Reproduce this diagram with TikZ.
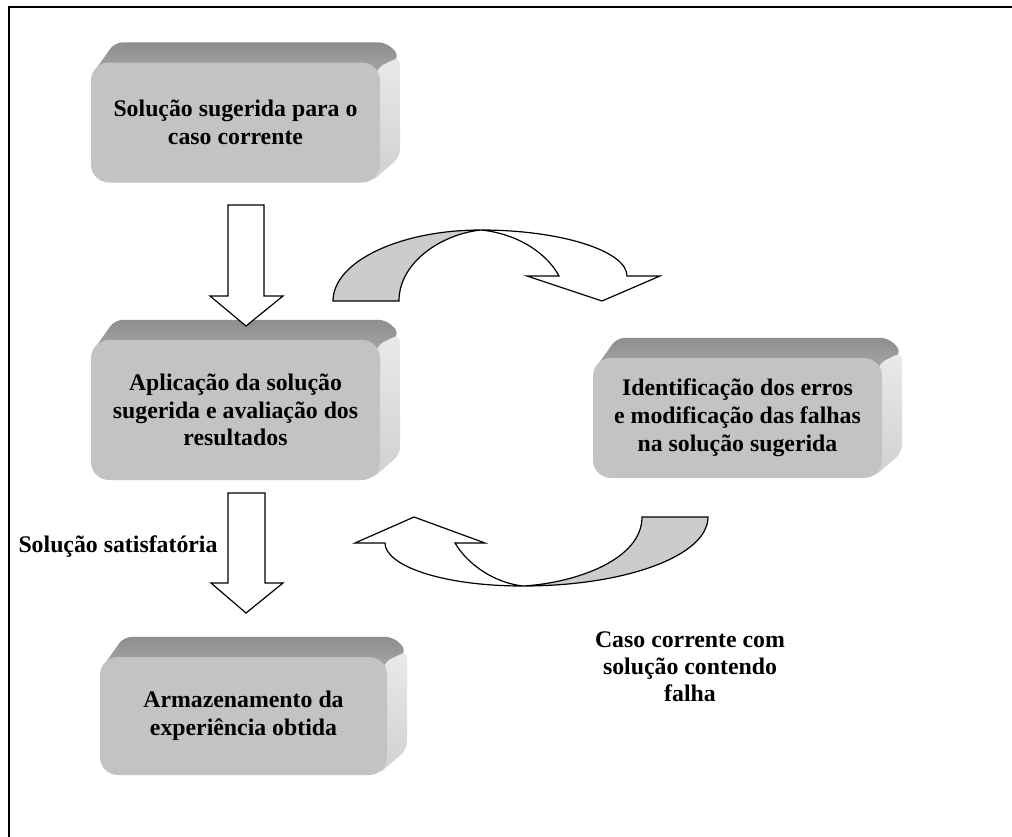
\documentclass[tikz,border=0pt]{standalone}
\usepackage{fontspec}
\setmainfont{Liberation Serif}
\usetikzlibrary{backgrounds,calc}
\definecolor{facec}{HTML}{C3C3C3}
\definecolor{topa}{HTML}{8E8E8E}
\definecolor{topb}{HTML}{A8A8A8}
\definecolor{sidea}{HTML}{EAEAEA}
\definecolor{sideb}{HTML}{D0D0D0}
\definecolor{bandc}{HTML}{CCCCCC}
\tikzset{
 facebox/.style={fill=facec, rounded corners=18pt, minimum width=289pt, minimum height=120pt, align=center, font=\fontsize{23.8}{27.8}\selectfont\bfseries, inner sep=0pt},
 lbl/.style={align=center, font=\fontsize{23.8}{27}\selectfont\bfseries, inner sep=0pt},
 blockarrow/.style={draw=black, line width=1.2pt, fill=white, line join=miter},
 bandarrow/.style={draw=black, line width=1.2pt, line join=miter},
 frameline/.style={draw=black, line width=1.6pt}
}
\newcommand{\bevelof}[1]{%
 \shade[top color=topa, bottom color=topb, rounded corners=8pt]
   ([yshift=-14pt]#1.north west) -- ([xshift=24pt,yshift=20pt]#1.north west) -- ([xshift=6pt,yshift=20pt]#1.north east) -- ([xshift=20pt,yshift=6pt]#1.north east) -- ([yshift=-10pt]#1.north east) -- cycle;
 \shade[top color=sidea, bottom color=sideb, rounded corners=8pt]
   ([xshift=-4pt,yshift=-6pt]#1.north east) -- ([xshift=20pt,yshift=6pt]#1.north east) -- ([xshift=20pt,yshift=26pt]#1.south east) -- ([xshift=-10pt]#1.south east) -- cycle;
}
\begin{document}
\begin{tikzpicture}[x=1pt,y=-1pt]
\useasboundingbox (0,0) rectangle (1012,836);
\draw[frameline] (9,840) -- (9,7) -- (1016,7);

\node[facebox] (sol) at (235.5,122.5) {Solução sugerida para o\\caso corrente};
\node[facebox, minimum height=140pt] (apl) at (235.5,410) {Aplicação da solução\\sugerida e avaliação dos\\resultados};
\node[facebox] (ide) at (737.5,418) {Identificação dos erros\\e modificação das falhas\\na solução sugerida};
\node[facebox, minimum width=287pt, minimum height=118pt] (arm) at (243.5,716) {Armazenamento da\\experiência obtida};

\begin{scope}[on background layer]
 \bevelof{sol}
 \bevelof{apl}
 \bevelof{ide}
 \bevelof{arm}
\end{scope}

% straight block arrows
\draw[blockarrow] (228,205) -- (264,205) -- (264,296) -- (283,296) -- (246,326) -- (210,296) -- (228,296) -- cycle;
\draw[blockarrow] (228,493) -- (265,493) -- (265,583) -- (283,583) -- (246,613) -- (211,583) -- (228,583) -- cycle;

% top curved arrow
\draw[bandarrow, fill=bandc] (333,301) .. controls (333,262) and (399,230) .. (481,230)
   .. controls (442,234) and (399,262) .. (399,301) -- cycle;
\draw[bandarrow, fill=white] (481,230) .. controls (561,230) and (627,251) .. (627,276)
   -- (660,276) -- (602,301) -- (527,276) -- (559,276)
   .. controls (548,255) and (520,234) .. (481,230) -- cycle;

% bottom curved arrow
\draw[bandarrow, fill=bandc] (708,517) .. controls (708,556) and (625,586) .. (523,586)
   .. controls (575,583) and (642,560) .. (642,517) -- cycle;
\draw[bandarrow, fill=white] (523,586) .. controls (440,586) and (385,565) .. (385,543)
   -- (355,543) -- (414,517) -- (485,543) -- (455,543)
   .. controls (468,565) and (495,583) .. (523,586) -- cycle;

\node[lbl] (sat) at (118,547) {Solução satisfatória};
\node[lbl] (caso) at (690,667) {Caso corrente com\\solução contendo\\falha};
\end{tikzpicture}
\end{document}
